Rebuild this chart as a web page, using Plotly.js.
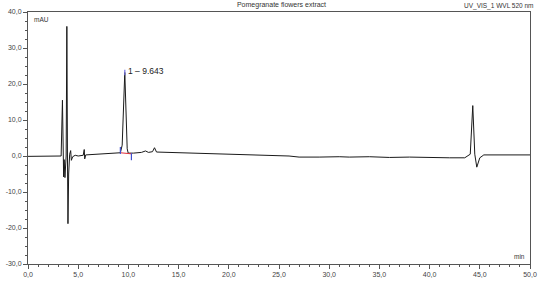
<!DOCTYPE html>
<html>
<head>
<meta charset="utf-8">
<script src="https://cdn.plot.ly/plotly-3.0.1.min.js"></script>
<style>html,body{margin:0;padding:0;background:#fff;}#chart{width:550px;height:286px;}</style>
</head>
<body>
<div id="chart"></div>
<script>
// Chromatogram (retention time in min, signal in mAU)
var timeMin = [0, 1.0, 1.5, 2.0, 3.0, 3.3, 3.43, 3.5, 3.55, 3.6, 3.68, 3.8, 3.87, 3.93, 3.98, 4.05, 4.15, 4.25, 4.32, 4.45, 4.7, 5.0, 5.5, 5.6, 5.65, 5.75, 6.5, 7.5, 8.5, 9.2, 9.38, 9.64, 9.88, 9.98, 10.5, 11.3, 11.7, 12.0, 12.4, 12.6, 12.8, 14, 16, 18, 20, 22, 24, 26, 27, 28, 29, 31, 32, 34, 35, 36, 38, 40, 42, 43.5, 44.05, 44.3, 44.5, 44.7, 45.0, 45.4, 47, 50];
var signalMAU = [-0.1, -0.1, 0.0, -0.1, 0.0, 0.0, 15.5, -3, -5.8, -1, -6, 0, 36, 0, -18.8, -5, 0.5, 1.5, -1.2, -0.2, 0.2, 0.0, 0.2, 1.8, -0.8, 0.3, 0.4, 0.6, 0.8, 0.9, 3, 23.2, 2, 0.8, 0.8, 1.0, 1.4, 1.0, 1.2, 2.3, 1.1, 1.0, 0.8, 0.7, 0.5, 0.3, 0.2, 0.0, -0.3, -0.2, -0.3, -0.2, -0.3, -0.2, -0.3, -0.4, -0.3, -0.5, -0.5, -0.5, 0.5, 14, 0.5, -3.1, -0.5, 0.3, 0.3, 0.3];
// Integrated peak 1
var peakLabel = "1 \u2013 9.643";
var peakApexX = [9.643];
var peakApexY = [23.2];
var peakBaseX = [9.2, 10.3];
var peakBaseY = [0.9, 0.6];
var peakDelimX = [9.2, 10.3];
var peakDelimY = [1.5, -0.2];
// Axis ticks
var xTickVals = [0, 5, 10, 15, 20, 25, 30, 35, 40, 45, 50];
var xTickText = ["0,0", "5,0", "10,0", "15,0", "20,0", "25,0", "30,0", "35,0", "40,0", "45,0", "50,0"];
var yTickVals = [-30, -20, -10, 0, 10, 20, 30, 40];
var yTickText = ["-30,0", "-20,0", "-10,0", "0,0", "10,0", "20,0", "30,0", "40,0"];

var traces = [
  {x: timeMin, y: signalMAU, mode: 'lines', line: {color: '#1a1a1a', width: 1}, hoverinfo: 'skip'},
  {x: peakBaseX, y: peakBaseY, mode: 'lines', line: {color: '#e0303a', width: 1}, hoverinfo: 'skip'},
  {x: peakDelimX, y: peakDelimY, mode: 'markers', marker: {symbol: 'line-ns', size: 5, line: {color: '#4050d0', width: 1.2}}, hoverinfo: 'skip'},
  {x: peakApexX, y: peakApexY, mode: 'markers', marker: {symbol: 'line-ns', size: 4, line: {color: '#7070e0', width: 1.2}}, hoverinfo: 'skip'}
];

var tickFont = {family: 'Liberation Sans, Arial, sans-serif', size: 7, color: '#444'};
var layout = {
  width: 550, height: 286,
  margin: {l: 28, r: 20, t: 12, b: 22, pad: 0},
  paper_bgcolor: '#fff', plot_bgcolor: '#fff',
  showlegend: false,
  title: {text: 'Pomegranate flowers extract', font: {family: 'Liberation Sans, Arial, sans-serif', size: 7, color: '#333'}, x: 0.505, xanchor: 'center', y: 0.985, yanchor: 'middle', xref: 'paper'},
  xaxis: {
    range: [0, 50], tickmode: 'array', tickvals: xTickVals, ticktext: xTickText,
    ticks: 'outside', ticklen: 4, tickwidth: 1, tickcolor: '#555',
    minor: {dtick: 1, ticks: 'outside', ticklen: 2, tickcolor: '#555', showgrid: false},
    showline: true, linecolor: '#555', linewidth: 1, mirror: true,
    showgrid: false, zeroline: false, tickfont: tickFont
  },
  yaxis: {
    range: [-30, 40], tickmode: 'array', tickvals: yTickVals, ticktext: yTickText,
    ticks: 'outside', ticklen: 4, tickwidth: 1, tickcolor: '#555',
    minor: {dtick: 2.5, ticks: 'outside', ticklen: 2, tickcolor: '#555', showgrid: false},
    showline: true, linecolor: '#555', linewidth: 1, mirror: true,
    showgrid: false, zeroline: false, tickfont: tickFont
  },
  annotations: [
    {x: peakApexX[0], y: peakApexY[0], xref: 'x', yref: 'y', text: peakLabel, showarrow: false, xanchor: 'left', yanchor: 'middle', xshift: 1, yshift: 1, font: {family: 'Liberation Sans, Arial, sans-serif', size: 8.5, color: '#222'}},
    {x: 1, y: 1, xref: 'paper', yref: 'paper', text: 'UV_VIS_1 WVL 520 nm', showarrow: false, xanchor: 'right', yanchor: 'bottom', xshift: 6, yshift: 0, font: {family: 'Liberation Sans, Arial, sans-serif', size: 6.5, color: '#333'}},
    {x: 0, y: 1, xref: 'paper', yref: 'paper', text: 'mAU', showarrow: false, xanchor: 'left', yanchor: 'top', xshift: 4, yshift: -2, font: {family: 'Liberation Sans, Arial, sans-serif', size: 6.5, color: '#333'}},
    {x: 1, y: 0, xref: 'paper', yref: 'paper', text: 'min', showarrow: false, xanchor: 'right', yanchor: 'bottom', xshift: -3, yshift: 2, font: {family: 'Liberation Sans, Arial, sans-serif', size: 6.5, color: '#333'}}
  ]
};
Plotly.newPlot('chart', traces, layout, {displayModeBar: false, staticPlot: true});
</script>
</body>
</html>
